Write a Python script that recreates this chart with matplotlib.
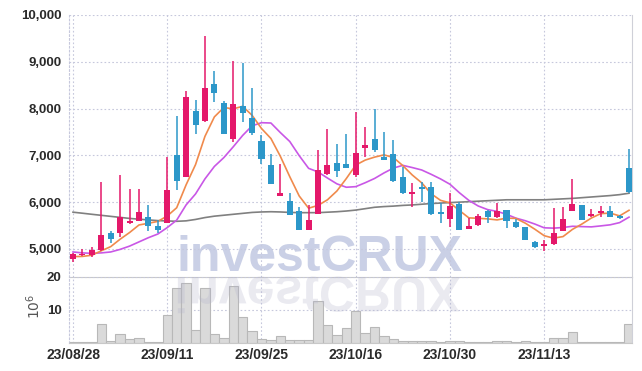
import matplotlib
matplotlib.use("Agg")
import matplotlib.pyplot as plt
from matplotlib import font_manager
from matplotlib.textpath import TextPath
from matplotlib.patches import PathPatch
from matplotlib.font_manager import FontProperties
from matplotlib.transforms import Affine2D
import numpy as np
import pandas as pd

# KRX holidays inside the window (Chuseok etc.)
HOLIDAYS = ["2023-09-28", "2023-09-29", "2023-10-02", "2023-10-03", "2023-10-09"]
TICK_DATES = ["2023-08-28", "2023-09-11", "2023-09-25", "2023-10-16", "2023-10-30", "2023-11-13"]

OPEN = [4780, 4860, 4865, 4980, 5340, 5340, 5550, 5600, 5680, 5490,
        5560, 7010, 6540, 7950, 7740, 8530, 8120, 7360, 8060, 7800,
        7310, 6800, 6140, 6030, 5810, 5410, 5750, 6600, 6840, 6820,
        6590, 7160, 7350, 6970, 7030, 6530, 6170, 6330, 6330, 5760,
        5640, 5960, 5430, 5510, 5800, 5690, 5830, 5580, 5460, 5140,
        5070, 5100, 5390, 5820, 5940, 5700, 5760, 5810, 5710, 6720]
HIGH = [4920, 4995, 5040, 6420, 5390, 6580, 6280, 6280, 5940, 5620,
        6970, 7850, 8380, 8180, 9550, 8810, 8160, 9020, 8970, 8430,
        7440, 7020, 6810, 6190, 5890, 5940, 7110, 7560, 7240, 7460,
        7930, 7600, 7980, 7500, 7330, 6760, 6400, 6440, 6440, 5980,
        6200, 6010, 5660, 5740, 5830, 5990, 5830, 5630, 5470, 5170,
        5180, 5870, 5900, 6490, 5945, 5850, 5920, 5910, 5725, 7130]
LOW = [4730, 4850, 4835, 4965, 5120, 5250, 5530, 5590, 5390, 5340,
       5550, 6250, 6530, 7450, 7720, 8130, 7450, 7290, 7720, 7440,
       6820, 6385, 6140, 5730, 5400, 5400, 5740, 6580, 6530, 6735,
       6530, 6970, 7080, 6900, 6440, 6170, 5900, 6010, 5730, 5560,
       5460, 5400, 5425, 5500, 5560, 5655, 5440, 5455, 5185, 5015,
       4965, 5085, 5385, 5800, 5615, 5680, 5690, 5690, 5635, 6200]
CLOSE = [4885, 4870, 4980, 5300, 5210, 5680, 5580, 5790, 5480, 5410,
         6260, 6460, 8240, 7640, 8430, 8340, 7460, 8100, 7910, 7470,
         6930, 6390, 6200, 5730, 5410, 5620, 6690, 6800, 6670, 6740,
         7060, 7220, 7120, 6910, 6460, 6190, 6220, 6280, 5750, 5750,
         5920, 5410, 5490, 5700, 5690, 5810, 5600, 5460, 5190, 5050,
         5110, 5340, 5630, 5960, 5620, 5750, 5810, 5690, 5660, 6220]
# volume, millions of shares
VOLUME = [0.1, 0.1, 0.2, 5.6, 0.4, 2.5, 1.0, 1.5, 0.3, 0.3,
          8.5, 16.7, 18.3, 3.7, 16.7, 2.5, 1.5, 17.4, 7.8, 3.5,
          1.2, 0.9, 1.9, 0.7, 0.7, 0.7, 12.8, 5.4, 2.3, 4.3,
          9.7, 2.8, 4.6, 1.9, 1.2, 0.6, 0.6, 0.4, 0.5, 0.3,
          0.6, 0.4, 0.3, 0.2, 0.2, 0.4, 0.4, 0.2, 0.4, 0.2,
          0.2, 1.5, 1.5, 3.3, 0.3, 0.3, 0.3, 0.3, 0.3, 5.6]
# moving average values before the window starts
MA5_HEAD = [4835, 4840, 4865, 4960]
MA10_HEAD = [4935, 4915, 4905, 4915, 4935, 4990, 5060, 5150, 5240]
MA_LONG = [5785, 5763, 5740, 5718, 5696, 5674, 5652, 5635, 5620, 5605,
           5598, 5590, 5600, 5630, 5670, 5700, 5720, 5740, 5760, 5780,
           5790, 5795, 5790, 5780, 5775, 5775, 5775, 5785, 5795, 5810,
           5830, 5860, 5890, 5905, 5915, 5930, 5940, 5955, 5970, 5980,
           5990, 6000, 6010, 6020, 6030, 6040, 6050, 6050, 6050, 6050,
           6050, 6060, 6070, 6080, 6095, 6110, 6125, 6140, 6160, 6190]

RED = "#e4186a"
BLUE = "#2c97c9"
GRID = "#c6c8dc"


def pick_font(cands):
    names = {f.name for f in font_manager.fontManager.ttflist}
    for c in cands:
        if c in names:
            return c
    return "DejaVu Sans"


tick_font = pick_font(["Liberation Sans", "DejaVu Sans"])
wm_font = pick_font(["Liberation Sans", "DejaVu Sans"])

dates = pd.bdate_range("2023-08-28", "2023-11-24")
dates = dates[~dates.isin(pd.to_datetime(HOLIDAYS))]
x = np.arange(len(dates))
tick_pos = [int(np.where(dates == pd.Timestamp(d))[0][0]) for d in TICK_DATES]
tick_lbl = [pd.Timestamp(d).strftime("%y/%m/%d") for d in TICK_DATES]

o = np.array(OPEN)
h = np.array(HIGH)
lo = np.array(LOW)
c = np.array(CLOSE)
up = c >= o
cols = np.where(up, RED, BLUE)

ma5 = pd.Series(c).rolling(5).mean().to_numpy()
ma5[:len(MA5_HEAD)] = MA5_HEAD
ma10 = pd.Series(c).rolling(10).mean().to_numpy()
ma10[:len(MA10_HEAD)] = MA10_HEAD

fig = plt.figure(figsize=(6.42, 3.71), dpi=100)
ax = fig.add_axes([0.1067, 0.2534, 0.8785, 0.7062])
vax = fig.add_axes([0.1067, 0.0768, 0.8785, 0.1766], sharex=ax)
for a in (ax, vax):
    a.set_facecolor("none")
    a.set_axisbelow(True)

# watermark + its reflection
fig.text(0.497, 1 - 271 / 371, "investCRUX", fontsize=36, fontweight="bold",
         family=wm_font, color="#cad0e6", ha="center", va="baseline", zorder=-1)
tp = TextPath((0, 0), "investCRUX", size=50, prop=FontProperties(family=wm_font, weight="bold"))
ext = tp.get_extents()
cx = (ext.x0 + ext.x1) / 2
refl = PathPatch(tp, transform=Affine2D().translate(-cx, 0).scale(1, -1).translate(319, 94),
                 facecolor="#b4b4cc", edgecolor="none", alpha=0.28, zorder=1)
fig.add_artist(refl)

# candles
body = np.maximum(np.abs(c - o), 40)
ax.vlines(x, lo, h, color=cols, linewidth=1.1, zorder=3)
ax.bar(x, body, bottom=np.minimum(o, c), width=0.64, color=cols, linewidth=0, zorder=4)

ax.plot(x, MA_LONG, color="#808080", linewidth=1.2, zorder=2)
ax.plot(x, ma10, color="#c957e6", linewidth=1.2, zorder=2)
ax.plot(x, ma5, color="#f08a4c", linewidth=1.2, zorder=2)

vax.bar(x, VOLUME, width=1.0, color="#dadada", edgecolor="#b8b8b8", linewidth=0.8, zorder=2)

ax.set_xlim(-0.48, 59.37)
ax.set_ylim(4400, 10000)
vax.set_ylim(0, 20)

ax.set_yticks([5000, 6000, 7000, 8000, 9000, 10000])
ax.set_yticklabels([f"{v:,}" for v in [5000, 6000, 7000, 8000, 9000, 10000]])
vax.set_yticks([10, 20])
vax.set_xticks(tick_pos)
vax.set_xticklabels(tick_lbl)
ax.tick_params(axis="x", labelbottom=False)

for a in (ax, vax):
    a.grid(True, color=GRID, linestyle=(0, (1.5, 2)), linewidth=0.8)
    a.tick_params(length=0, colors="#2a2a2a", labelsize=9.5, pad=5)
    for lab in a.get_yticklabels() + a.get_xticklabels():
        lab.set_family(tick_font)
        lab.set_fontweight("bold")
    a.spines["top"].set_visible(False)
    a.spines["left"].set_color(GRID)
    a.spines["left"].set_linestyle((0, (1.5, 2)))
    a.spines["right"].set_color("#cfd0d8")
    a.spines["bottom"].set_color("#c8c8c8")
for lab in vax.get_xticklabels():
    lab.set_fontsize(10)
vax.tick_params(axis="x", pad=4)

vax.set_ylabel(r"$10^6$", color="#555555", fontsize=10, rotation=90)
vax.yaxis.set_label_coords(-0.045, 0.55)

fig.savefig("out.png", dpi=100)
